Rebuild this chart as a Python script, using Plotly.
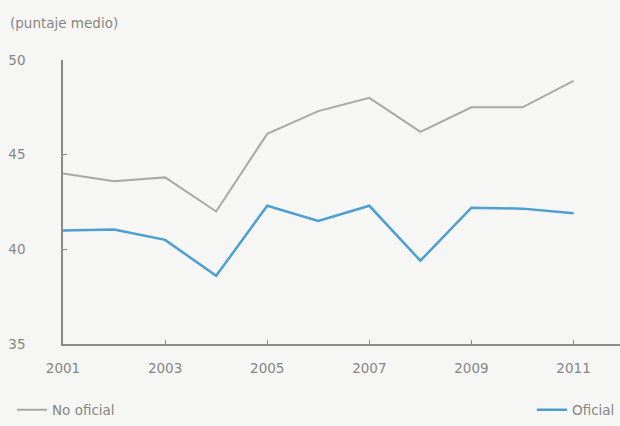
import plotly.graph_objects as go

years = [2001, 2002, 2003, 2004, 2005, 2006, 2007, 2008, 2009, 2010, 2011]
no_oficial = [44.0, 43.6, 43.8, 42.0, 46.1, 47.3, 48.0, 46.2, 47.5, 47.5, 48.9]
oficial = [41.0, 41.05, 40.5, 38.6, 42.3, 41.5, 42.3, 39.4, 42.2, 42.15, 41.9]
x_ticks = [2001, 2003, 2005, 2007, 2009, 2011]
y_ticks = [35, 40, 45, 50]

bg = "#f6f7f4"
axis_col = "#8a8a8a"
txt_col = "#858585"
font = "DejaVu Sans, Liberation Sans, Arial, sans-serif"
FS = 13.5

fig = go.Figure()
fig.add_trace(go.Scatter(x=years, y=no_oficial, mode="lines", name="No oficial",
                         line=dict(color="#a8a8a6", width=2), legend="legend"))
fig.add_trace(go.Scatter(x=years, y=oficial, mode="lines", name="Oficial",
                         line=dict(color="#4b9fd3", width=2.5), legend="legend2"))

fig.update_layout(
    width=620, height=426,
    margin=dict(l=63, r=0, t=60, b=78),
    paper_bgcolor=bg, plot_bgcolor=bg,
    font=dict(family=font, size=FS, color=txt_col),
    showlegend=True,
    legend=dict(x=(12 - 63) / 557, xanchor="left", y=-0.232, yanchor="middle",
                bgcolor="rgba(0,0,0,0)", font=dict(size=FS, color=txt_col),
                itemwidth=30),
    legend2=dict(x=1.0, xanchor="right", y=-0.232, yanchor="middle",
                 bgcolor="rgba(0,0,0,0)", font=dict(size=FS, color=txt_col),
                 itemwidth=30),
    xaxis=dict(range=[2001, 2011.91], tickvals=x_ticks, ticks="inside", ticklen=4,
               tickcolor=axis_col, showline=True, linecolor=axis_col, linewidth=1.5,
               showgrid=False, zeroline=False, ticklabelstandoff=11,
               tickfont=dict(size=FS, color=txt_col)),
    yaxis=dict(range=[35, 50], tickvals=y_ticks, ticks="inside", ticklen=4,
               tickcolor=axis_col, showline=True, linecolor=axis_col, linewidth=1.5,
               showgrid=False, zeroline=False, ticklabelstandoff=33,
               tickfont=dict(size=FS, color=txt_col)),
    annotations=[dict(text="(puntaje medio)", xref="paper", yref="paper",
                      x=(8 - 63) / 557, y=1 + 38 / 288, xanchor="left", yanchor="middle",
                      showarrow=False, font=dict(size=FS, color=txt_col))],
)

fig.write_html("out.html", config={"displayModeBar": False},
               post_script="document.body.style.margin='0';")
